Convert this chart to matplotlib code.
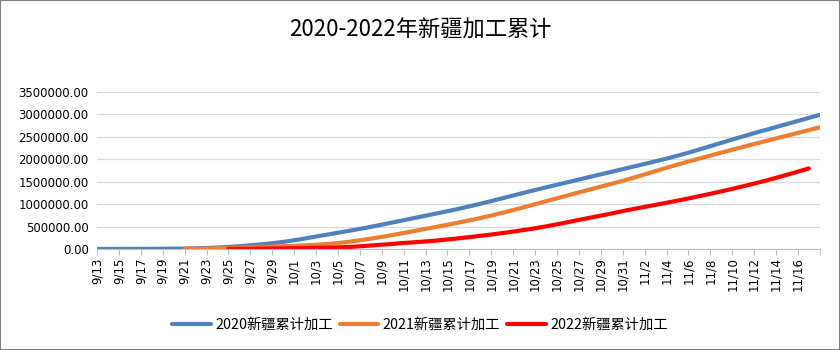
import numpy as np
import pandas as pd
import matplotlib
matplotlib.use('Agg')
import matplotlib.pyplot as plt
from matplotlib.patches import Rectangle

plt.rcParams['font.family'] = ['DejaVu Sans', 'Noto Sans CJK SC']

# 9/13 .. 11/18
dates = pd.date_range('2022-09-13', '2022-11-18')
date_labels = ['%d/%d' % (d.month, d.day) for d in dates]

y2020 = [0, 500, 1000, 1500, 2500, 3500, 5000, 7000, 10000, 15000,
         22000, 32000, 45000, 62000, 82000, 104000, 128000, 158000, 195000, 235000,
         278000, 320000, 362000, 404000, 448000, 494000, 542000, 592000, 642000, 692000,
         742000, 792000, 842000, 895000, 950000, 1008000, 1068000, 1130000, 1192000, 1254000,
         1314000, 1374000, 1432000, 1490000, 1548000, 1606000, 1664000, 1722000, 1780000, 1838000,
         1896000, 1955000, 2015000, 2078000, 2146000, 2218000, 2292000, 2366000, 2440000, 2512000,
         2582000, 2650000, 2718000, 2786000, 2854000, 2922000, 2990000]

# 2021 starts 9/21
y2021 = [None] * 8 + [
         1000, 4000, 9000, 15000, 22000, 30000, 38000, 46000, 54000, 62000,
         70000, 80000, 94000, 112000, 132000, 160000, 194000, 230000, 270000, 312000,
         356000, 402000, 448000, 494000, 540000, 588000, 638000, 690000, 746000, 806000,
         868000, 932000, 998000, 1064000, 1130000, 1196000, 1262000, 1326000, 1390000, 1454000,
         1520000, 1590000, 1662000, 1736000, 1810000, 1882000, 1950000, 2016000, 2082000, 2148000,
         2212000, 2276000, 2340000, 2402000, 2464000, 2526000, 2588000, 2650000, 2712000]

# 2022 starts 9/25, ends 11/17
y2022 = [None] * 12 + [
         0, 2000, 4000, 6000, 9000, 12000, 16000, 20000, 25000, 30000,
         36000, 45000, 60000, 78000, 95000, 114000, 134000, 150000, 168000, 188000,
         212000, 238000, 265000, 293000, 322000, 354000, 388000, 424000, 462000, 504000,
         550000, 598000, 648000, 696000, 744000, 792000, 845000, 892000, 938000, 984000,
         1030000, 1078000, 1126000, 1178000, 1230000, 1284000, 1340000, 1398000, 1458000, 1520000,
         1586000, 1654000, 1724000, 1796000] + [None]

series = [('2020新疆累计加工', y2020, '#4F81BD'),
          ('2021新疆累计加工', y2021, '#ED7D31'),
          ('2022新疆累计加工', y2022, '#FF0000')]

fig = plt.figure(figsize=(8.4, 3.5), dpi=100)
ax = fig.add_axes([0.1155, 0.2886, 0.8605, 0.4486])

x = np.arange(len(dates))
for name, vals, color in series:
    v = np.array([np.nan if a is None else a for a in vals], dtype=float)
    ax.plot(x, v, color=color, lw=3, label=name, solid_capstyle='round')

ax.set_xlim(0, len(dates) - 1)
ax.set_ylim(0, 3500000)
ax.set_yticks(np.arange(0, 3500001, 500000))
ax.yaxis.set_major_formatter(matplotlib.ticker.FormatStrFormatter('%.2f'))
ax.grid(axis='y', color='#d9d9d9', lw=0.9)
ax.set_axisbelow(True)

ticks = x[::2]
ax.set_xticks(ticks)
ax.set_xticklabels([date_labels[i] if i < len(dates) - 1 else '' for i in ticks], rotation=90)
ax.tick_params(axis='x', length=4, color='#bfbfbf', labelsize=8.5, pad=2)
ax.tick_params(axis='y', length=0, labelsize=8.5, pad=6)

for s in ['top', 'right', 'left']:
    ax.spines[s].set_visible(False)
ax.spines['bottom'].set_color('#bfbfbf')

fig.text(0.5, 0.914, '2020-2022年新疆加工累计', ha='center', va='center',
         fontsize=16, family=['Noto Sans CJK SC'])

fig.legend(loc='center', bbox_to_anchor=(0.5, 0.072), ncol=3, frameon=False,
           handlelength=2.7, handletextpad=0.3, columnspacing=0.5,
           prop={'family': ['Noto Sans CJK SC'], 'size': 10.3})

fig.add_artist(Rectangle((0, 0), 1, 1, transform=fig.transFigure, fill=False,
                         edgecolor='#7f7f7f', lw=1.5))

fig.savefig('out.png', dpi=100)
